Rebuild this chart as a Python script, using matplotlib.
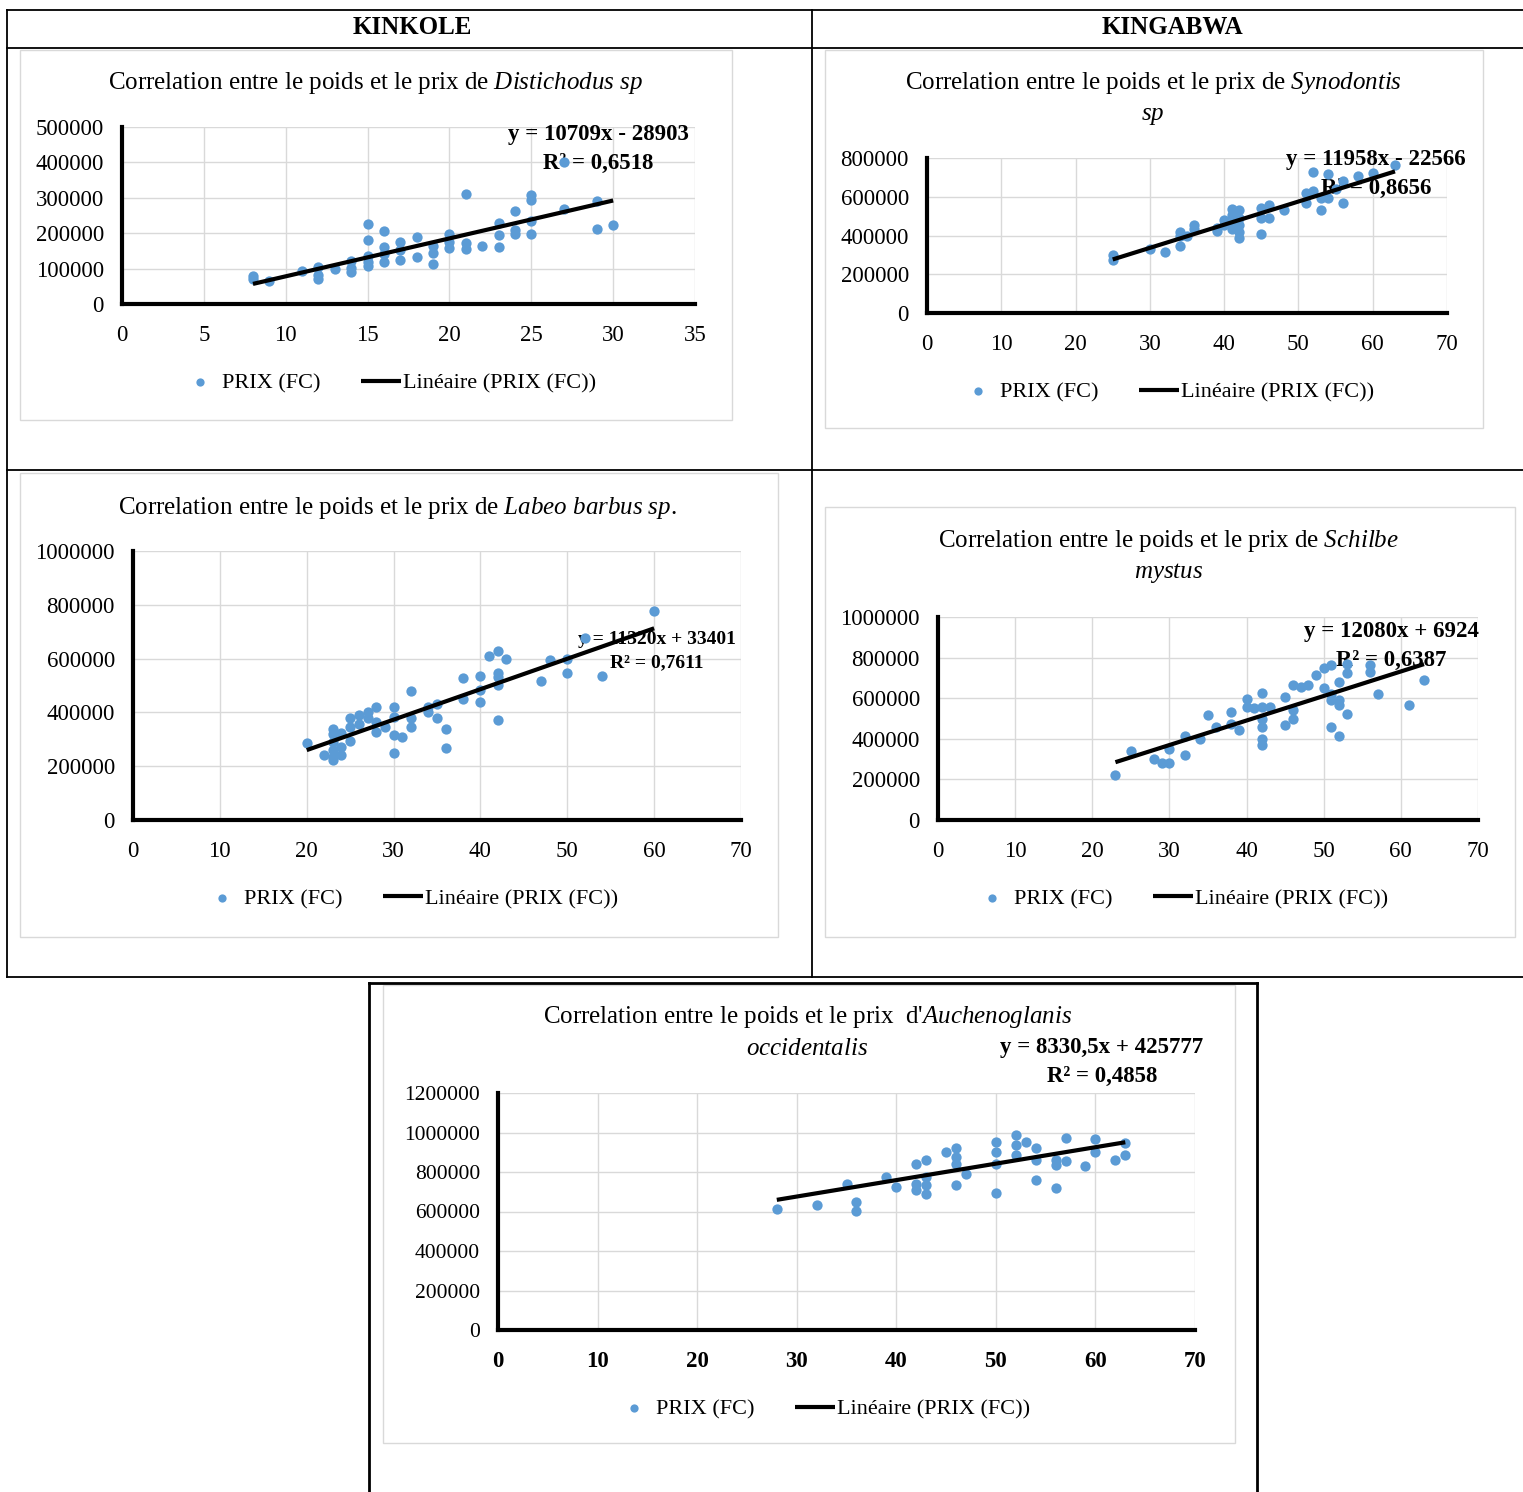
import numpy as np
import matplotlib
matplotlib.use("Agg")
from matplotlib import pyplot as plt
from matplotlib.lines import Line2D
from matplotlib.patches import Rectangle
from matplotlib.ticker import FormatStrFormatter

plt.rcParams['font.family'] = ['Liberation Serif', 'DejaVu Serif']
plt.rcParams['mathtext.fontset'] = 'custom'
plt.rcParams['mathtext.rm'] = 'Liberation Serif'
plt.rcParams['mathtext.it'] = 'Liberation Serif:italic'

# ---- data: poids (x) vs PRIX (FC) (y) ----
dist_x = [8, 8, 9, 11, 12, 12, 12, 13, 14, 14, 14, 15, 15, 15, 15, 15, 16, 16, 16, 16,
          17, 17, 17, 18, 18, 19, 19, 19, 20, 20, 20, 21, 21, 21, 22, 23, 23, 23,
          24, 24, 24, 25, 25, 25, 25, 27, 27, 29, 29, 30]
dist_y = [80000, 72000, 65000, 92000, 105000, 82000, 70000, 100000, 122000, 102000, 90000,
          225000, 180000, 135000, 118000, 108000, 205000, 160000, 140000, 120000,
          175000, 152000, 125000, 190000, 132000, 165000, 145000, 112000,
          198000, 175000, 158000, 312000, 172000, 155000, 165000, 228000, 195000, 162000,
          262000, 208000, 198000, 308000, 295000, 235000, 198000, 400000, 268000,
          290000, 212000, 222000]

syno_x = [25, 25, 30, 32, 34, 34, 34, 35, 36, 36, 39, 39, 40, 40, 41, 41, 41, 41,
          42, 42, 42, 42, 42, 45, 45, 45, 46, 46, 48, 51, 51, 52, 52, 53, 53, 54, 54,
          55, 56, 56, 58, 60, 63]
syno_y = [300000, 272000, 330000, 315000, 395000, 348000, 418000, 400000, 455000, 432000,
          440000, 425000, 478000, 452000, 538000, 505000, 462000, 436000,
          530000, 490000, 455000, 420000, 385000, 540000, 490000, 410000, 556000, 490000,
          530000, 618000, 566000, 730000, 628000, 530000, 592000, 716000, 595000,
          640000, 680000, 568000, 705000, 722000, 765000]

labeo_x = [20, 22, 23, 23, 23, 23, 23, 23, 24, 24, 24, 25, 25, 25, 26, 26, 27, 27,
           28, 28, 28, 29, 30, 30, 30, 30, 31, 32, 32, 32, 34, 34, 35, 35, 36, 36,
           38, 38, 40, 40, 40, 41, 42, 42, 42, 42, 42, 43, 47, 48, 50, 50, 52, 54, 60]
labeo_y = [288000, 242000, 340000, 320000, 290000, 260000, 236000, 224000, 322000, 272000,
           242000, 378000, 346000, 292000, 390000, 358000, 402000, 378000,
           420000, 364000, 328000, 346000, 420000, 382000, 316000, 250000, 310000,
           478000, 378000, 346000, 420000, 400000, 432000, 380000, 340000, 266000,
           528000, 448000, 536000, 482000, 440000, 608000, 630000, 548000, 530000,
           502000, 372000, 600000, 518000, 596000, 598000, 548000, 678000, 536000, 778000]

schil_x = [23, 25, 28, 29, 30, 30, 32, 32, 34, 35, 36, 38, 38, 39, 40, 40, 41,
           42, 42, 42, 42, 42, 42, 43, 45, 45, 46, 46, 46, 47, 48, 49, 50, 50,
           51, 51, 51, 51, 52, 52, 52, 52, 53, 53, 53, 56, 56, 57, 61, 63]
schil_y = [222000, 340000, 300000, 282000, 280000, 350000, 415000, 318000, 400000, 516000,
           458000, 532000, 474000, 442000, 598000, 556000, 550000,
           626000, 556000, 500000, 458000, 400000, 368000, 556000, 606000, 466000,
           664000, 540000, 500000, 656000, 664000, 712000, 748000, 648000,
           762000, 622000, 590000, 458000, 680000, 590000, 566000, 412000,
           770000, 722000, 524000, 762000, 730000, 622000, 568000, 692000]

auch_x = [28, 32, 35, 36, 36, 39, 40, 42, 42, 42, 43, 43, 43, 43, 45, 46, 46, 46, 46,
          47, 50, 50, 50, 50, 52, 52, 52, 53, 54, 54, 54, 56, 56, 56, 57, 57, 59,
          60, 60, 62, 63, 63]
auch_y = [613000, 633000, 737000, 647000, 604000, 774000, 723000, 843000, 740000, 710000,
          860000, 774000, 732000, 690000, 902000, 919000, 877000, 843000, 732000,
          788000, 953000, 902000, 843000, 693000, 987000, 936000, 885000, 953000,
          919000, 860000, 757000, 860000, 834000, 720000, 970000, 854000, 829000,
          965000, 902000, 860000, 948000, 885000]

# trend lines (slope, intercept) as given by the Excel labels
slopes = [10709, 11958, 11320, 12080, 8330.5]
intercepts = [-28903, -22566, 33401, 6924, 425777]
eq_labels = ["y = 10709x - 28903\nR² = 0,6518",
             "y = 11958x - 22566\nR² = 0,8656",
             "y = 11320x + 33401\nR² = 0,7611",
             "y = 12080x + 6924\nR² = 0,6387",
             "y = 8330,5x + 425777\nR² = 0,4858"]

W, H = 1523, 1492
fig = plt.figure(figsize=(W / 100, H / 100), dpi=100)

# overlay in pixel coordinates for the table and frames
ov = fig.add_axes([0, 0, 1, 1])
ov.set_xlim(0, W)
ov.set_ylim(H, 0)
ov.axis('off')

def hline(y, x0, x1, lw=1.3, c='black'):
    ov.add_line(Line2D([x0, x1], [y, y], color=c, lw=lw))

def vline(x, y0, y1, lw=1.3, c='black'):
    ov.add_line(Line2D([x, x], [y0, y1], color=c, lw=lw))

hline(10, 7, W)
hline(48, 7, W)
hline(470, 7, W)
hline(977, 7, W)
vline(7, 10, 977)
vline(812, 10, 977)
hline(983, 369, 1257, lw=2)
vline(369, 983, H, lw=2)
vline(1257, 983, H, lw=2)

ov.text(412, 28, "KINKOLE", ha='center', va='center', fontsize=18, fontweight='bold')
ov.text(1172, 28, "KINGABWA", ha='center', va='center', fontsize=18, fontweight='bold')

# light chart-area frames
frames = [(20, 50, 732, 420), (825, 50, 1483, 428), (20, 473, 778, 937),
          (825, 507, 1515, 937), (383, 985, 1235, 1443)]
for x0, y0, x1, y1 in frames:
    ov.add_patch(Rectangle((x0, y0), x1 - x0, y1 - y0, fill=False, ec='#d9d9d9', lw=1))

titles = [
    [(375, 83, r"Correlation entre le poids et le prix de $\mathit{Distichodus\ sp}$")],
    [(1153, 83, r"Correlation entre le poids et le prix de $\mathit{Synodontis}$"),
     (1153, 116, r"$\mathit{sp}$")],
    [(397, 508, r"Correlation entre le poids et le prix de $\mathit{Labeo\ barbus\ sp.}$")],
    [(1169, 541, r"Correlation entre le poids et le prix de $\mathit{Schilbe}$"),
     (1169, 573, r"$\mathit{mystus}$")],
    [(808, 1017, r"Correlation entre le poids et le prix  d'$\mathit{Auchenoglanis}$"),
     (807, 1049, r"$\mathit{occidentalis}$")],
]
for tl in titles:
    for x, y, s in tl:
        ov.text(x, y, s, ha='center', va='center', fontsize=18)

# axes boxes in pixels: left, top(ymax), right, bottom(0)
boxes = [(122, 127, 695, 304), (927, 158, 1447, 313), (133, 551, 741, 820),
         (938, 617, 1478, 820), (498, 1093, 1195, 1330)]
xmaxs = [35, 70, 70, 70, 70]
ymaxs = [500000, 800000, 1000000, 1000000, 1200000]
xsteps = [5, 10, 10, 10, 10]
ysteps = [100000, 200000, 200000, 200000, 200000]
eq_pos = [(598, 149, 16.5), (1376, 174, 16.5), (657, 651, 14), (1391, 646, 16.5), (1102, 1062, 16.5)]
leg_pos = [(388, 383), (1166, 392), (410, 899), (1180, 899), (822, 1409)]

datasets = [(dist_x, dist_y), (syno_x, syno_y), (labeo_x, labeo_y),
            (schil_x, schil_y), (auch_x, auch_y)]

blue = '#5B9BD5'
for i, (x, y) in enumerate(datasets):
    l, t, r, b = boxes[i]
    ax = fig.add_axes([l / W, 1 - b / H, (r - l) / W, (b - t) / H])
    ax.patch.set_alpha(0)
    ax.set_axisbelow(True)
    sc = ax.scatter(x, y, s=55, color=blue, zorder=3, label='PRIX (FC)', linewidths=0)
    xx = np.array([min(x), max(x)])
    ln, = ax.plot(xx, slopes[i] * xx + intercepts[i], color='black', lw=3,
                  zorder=4, solid_capstyle='butt', label='Linéaire (PRIX (FC))')
    ax.set_xlim(0, xmaxs[i])
    ax.set_ylim(0, ymaxs[i])
    ax.set_xticks(np.arange(0, xmaxs[i] + 1, xsteps[i]))
    ax.set_yticks(np.arange(0, ymaxs[i] + 1, ysteps[i]))
    ax.yaxis.set_major_formatter(FormatStrFormatter('%d'))
    ax.grid(True, color='#d9d9d9', lw=1)
    for s in ['top', 'right']:
        ax.spines[s].set_visible(False)
    for s in ['left', 'bottom']:
        ax.spines[s].set_linewidth(3)
    ax.tick_params(length=0, labelsize=16.5)
    ax.tick_params(axis='x', pad=15)
    ax.tick_params(axis='y', pad=13)
    if i == 4:
        ax.tick_params(axis='y', labelsize=15.5)
        for lab in ax.get_xticklabels():
            lab.set_fontweight('bold')
    ex, ey, efs = eq_pos[i]
    ax.text(ex, ey, eq_labels[i], transform=ov.transData, ha='center', va='center',
            fontsize=efs, fontweight='bold', zorder=2.5, clip_on=False,
            linespacing=1.45)
    lx, ly = leg_pos[i]
    ax.legend(handles=[sc, ln], loc='center', bbox_to_anchor=(lx, ly),
              bbox_transform=ov.transData, ncol=2, frameon=False, fontsize=16,
              handlelength=1.8, handletextpad=0.1, columnspacing=1.8,
              markerscale=0.8)

fig.savefig("out.png", dpi=100)
